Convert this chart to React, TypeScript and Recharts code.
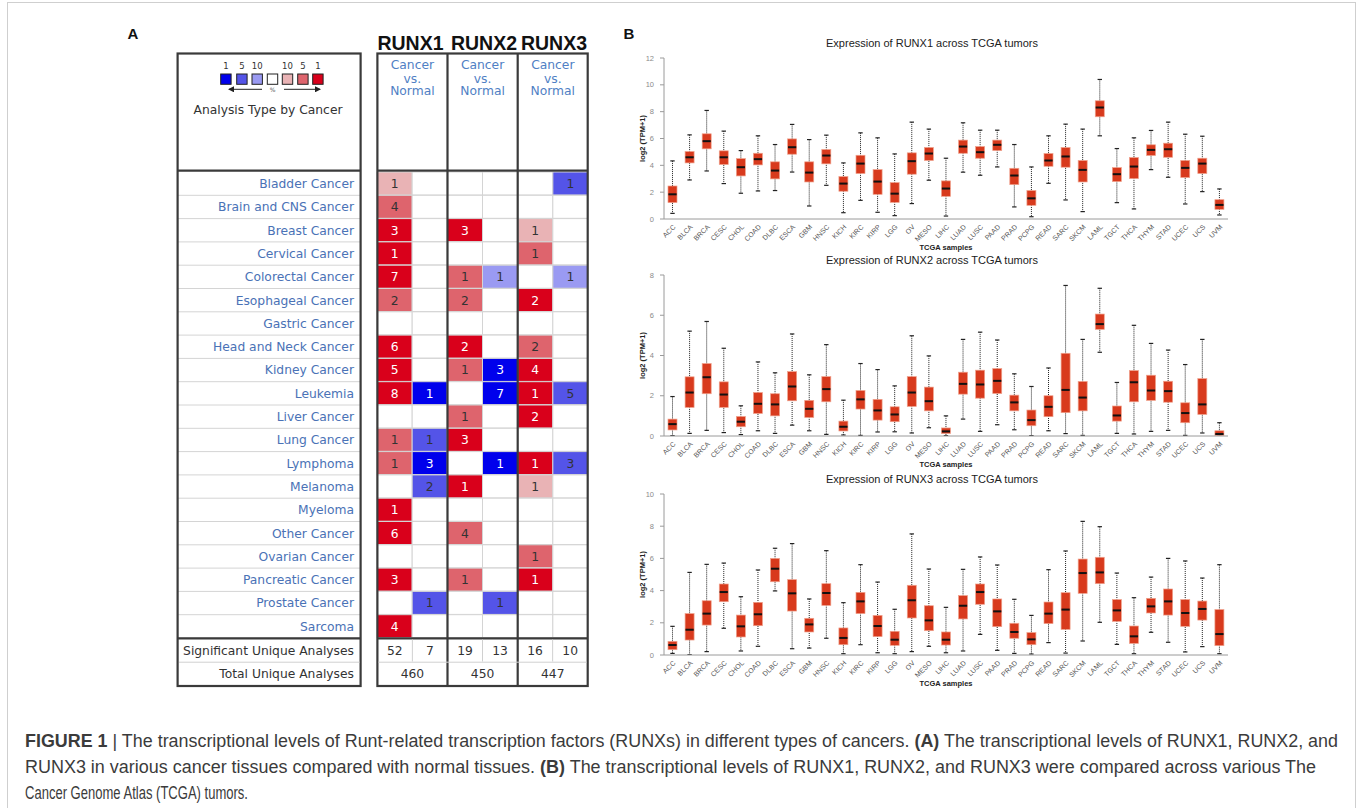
import React from 'react';
import { BarChart, Bar, XAxis, YAxis, ComposedChart } from 'recharts';

// ---------------- Panel A data (Oncomine) ----------------
const cancerTypes = [
  'Bladder Cancer', 'Brain and CNS Cancer', 'Breast Cancer', 'Cervical Cancer', 'Colorectal Cancer',
  'Esophageal Cancer', 'Gastric Cancer', 'Head and Neck Cancer', 'Kidney Cancer', 'Leukemia',
  'Liver Cancer', 'Lung Cancer', 'Lymphoma', 'Melanoma', 'Myeloma', 'Other Cancer',
  'Ovarian Cancer', 'Pancreatic Cancer', 'Prostate Cancer', 'Sarcoma',
];
const genes = ['RUNX1', 'RUNX2', 'RUNX3'];
const runx1Up = [1, 4, 3, 1, 7, 2, 0, 6, 5, 8, 0, 1, 1, 0, 1, 6, 0, 3, 0, 4];
const runx1UpShade = [1, 2, 3, 3, 3, 2, 0, 3, 3, 3, 0, 2, 2, 0, 3, 3, 0, 3, 0, 3];
const runx1Down = [0, 0, 0, 0, 0, 0, 0, 0, 0, 1, 0, 1, 3, 2, 0, 0, 0, 0, 1, 0];
const runx1DownShade = [0, 0, 0, 0, 0, 0, 0, 0, 0, 3, 0, 2, 3, 2, 0, 0, 0, 0, 2, 0];
const runx2Up = [0, 0, 3, 0, 1, 2, 0, 2, 1, 0, 1, 3, 0, 1, 0, 4, 0, 1, 0, 0];
const runx2UpShade = [0, 0, 3, 0, 2, 2, 0, 3, 2, 0, 2, 3, 0, 3, 0, 2, 0, 2, 0, 0];
const runx2Down = [0, 0, 0, 0, 1, 0, 0, 0, 3, 7, 0, 0, 1, 0, 0, 0, 0, 0, 1, 0];
const runx2DownShade = [0, 0, 0, 0, 1, 0, 0, 0, 3, 3, 0, 0, 3, 0, 0, 0, 0, 0, 2, 0];
const runx3Up = [0, 0, 1, 1, 0, 2, 0, 2, 4, 1, 2, 0, 1, 1, 0, 0, 1, 1, 0, 0];
const runx3UpShade = [0, 0, 1, 2, 0, 3, 0, 2, 3, 3, 3, 0, 3, 1, 0, 0, 2, 3, 0, 0];
const runx3Down = [1, 0, 0, 0, 1, 0, 0, 0, 0, 5, 0, 0, 3, 0, 0, 0, 0, 0, 0, 0];
const runx3DownShade = [2, 0, 0, 0, 1, 0, 0, 0, 0, 2, 0, 0, 2, 0, 0, 0, 0, 0, 0, 0];
const significantAnalyses = [52, 7, 19, 13, 16, 10];
const totalAnalyses = [460, 450, 447];
const legendPercentLabels = ['1', '5', '10', '', '10', '5', '1'];

// ---------------- Panel B data (GEPIA boxplots) ----------------
const tcgaTypes = ['ACC', 'BLCA', 'BRCA', 'CESC', 'CHOL', 'COAD', 'DLBC', 'ESCA', 'GBM', 'HNSC', 'KICH', 'KIRC', 'KIRP', 'LGG', 'OV', 'MESO', 'LIHC',
  'LUAD', 'LUSC', 'PAAD', 'PRAD', 'PCPG', 'READ', 'SARC', 'SKCM', 'LAML', 'TGCT', 'THCA', 'THYM', 'STAD', 'UCEC', 'UCS', 'UVM'];

const runx1Min = [0.42, 2.91, 3.58, 2.64, 1.92, 2.09, 2.12, 3.5, 0.97, 2.51, 0.47, 1.39, 0.5, 0.25, 1.15, 2.89, 0.22, 3.49, 3.26, 3.88, 0.9, 0.17, 2.66, 1.42, 0.55, 6.2, 1.22, 0.75, 3.68, 3.11, 1.12, 2.04, 0.3];
const runx1Q1 = [1.22, 4.18, 5.23, 4.06, 3.21, 4.03, 2.99, 4.83, 2.76, 4.11, 2.07, 3.39, 1.84, 1.24, 3.34, 4.36, 1.69, 4.9, 4.53, 5.1, 2.56, 1.02, 3.93, 3.86, 2.76, 7.62, 2.79, 3.01, 4.73, 4.6, 3.09, 3.39, 0.72];
const runx1Med = [1.84, 4.6, 5.8, 4.6, 3.86, 4.46, 3.61, 5.35, 3.46, 4.73, 2.64, 4.13, 2.79, 1.89, 4.31, 4.88, 2.27, 5.4, 4.98, 5.53, 3.24, 1.54, 4.36, 4.66, 3.66, 8.31, 3.34, 3.91, 5.15, 5.2, 3.81, 4.13, 1.05];
const runx1Q3 = [2.46, 5.03, 6.35, 5.08, 4.5, 4.9, 4.26, 5.97, 4.26, 5.18, 3.16, 4.75, 3.68, 2.71, 4.93, 5.33, 2.84, 5.88, 5.4, 5.88, 3.78, 2.12, 4.88, 5.33, 4.36, 8.81, 3.83, 4.58, 5.53, 5.65, 4.36, 4.53, 1.44];
const runx1Max = [4.33, 6.27, 8.09, 6.55, 5.1, 6.2, 5.55, 7.05, 5.92, 6.25, 4.18, 6.42, 6.05, 4.85, 7.22, 6.7, 4.53, 7.17, 6.62, 6.62, 5.55, 3.88, 6.2, 7.07, 6.7, 10.4, 5.25, 6.05, 6.6, 7.22, 6.32, 6.17, 2.24];

const runx2Min = [0.02, 0.13, 0.28, 0.17, 0.07, 0.26, 0.13, 0.54, 0.26, 0.08, 0.05, 0.03, 0.2, 0.21, 0.15, 0.41, 0.02, 0.84, 0.23, 0.56, 0.31, 0.02, 0.26, 0.12, 0.03, 4.16, 0.13, 0.1, 0.23, 0.28, 0.03, 0.15, 0];
const runx2Q1 = [0.3, 1.42, 2.1, 1.42, 0.46, 1.12, 1.0, 1.75, 0.92, 1.7, 0.25, 1.34, 0.79, 0.71, 1.47, 1.25, 0.12, 2.08, 1.88, 2.11, 1.25, 0.51, 0.96, 1.16, 1.25, 5.3, 0.74, 1.7, 1.77, 1.68, 0.66, 1.07, 0.03];
const runx2Med = [0.59, 2.16, 2.92, 2.06, 0.71, 1.6, 1.57, 2.46, 1.35, 2.33, 0.46, 1.82, 1.27, 1.07, 2.16, 1.73, 0.23, 2.59, 2.56, 2.74, 1.67, 0.79, 1.45, 2.29, 1.91, 5.56, 1.02, 2.67, 2.26, 2.23, 1.14, 1.57, 0.1];
const runx2Q3 = [0.84, 2.94, 3.6, 2.69, 0.97, 2.16, 2.1, 3.2, 1.77, 2.95, 0.74, 2.26, 1.82, 1.45, 2.95, 2.43, 0.4, 3.17, 3.27, 3.35, 2.03, 1.29, 2.0, 4.11, 2.71, 6.06, 1.49, 3.25, 3.02, 2.72, 1.65, 2.85, 0.26];
const runx2Max = [1.96, 5.21, 5.69, 4.36, 1.5, 3.68, 3.14, 5.07, 3.04, 4.54, 1.78, 3.6, 3.3, 2.49, 4.98, 3.98, 1.0, 4.8, 5.16, 4.77, 3.09, 2.46, 3.38, 7.48, 4.8, 7.34, 2.66, 5.5, 4.6, 4.27, 3.55, 4.8, 0.66];

const runx3Min = [0.1, 0.02, 0.21, 1.66, 0.25, 0.54, 3.98, 0.39, 0.43, 1.04, 0.08, 0.64, 0.14, 0.08, 0.21, 0.54, 0.14, 0.25, 1.28, 0.29, 0.1, 0.06, 0.77, 0.12, 0.87, 2.03, 0.66, 0.08, 1.41, 0.79, 0.19, 0.52, 0.08];
const runx3Q1 = [0.33, 0.93, 1.86, 3.31, 1.12, 1.82, 4.55, 2.73, 1.43, 3.08, 0.64, 2.57, 1.14, 0.6, 2.3, 1.51, 0.62, 2.24, 3.15, 1.76, 1.04, 0.64, 1.95, 1.59, 3.83, 4.43, 2.09, 0.72, 2.61, 2.48, 1.78, 2.17, 0.58];
const runx3Med = [0.62, 1.57, 2.57, 3.91, 1.78, 2.53, 5.36, 3.83, 1.9, 3.85, 1.06, 3.33, 1.8, 0.95, 3.4, 2.15, 0.95, 3.06, 3.91, 2.71, 1.43, 0.97, 2.57, 2.82, 5.09, 5.13, 2.77, 1.16, 3.02, 3.33, 2.61, 2.86, 1.3];
const runx3Q3 = [0.85, 2.57, 3.37, 4.41, 2.48, 3.27, 6.0, 4.68, 2.28, 4.43, 1.68, 3.89, 2.46, 1.47, 4.33, 3.06, 1.43, 3.69, 4.41, 3.48, 1.97, 1.39, 3.29, 3.87, 5.96, 6.07, 3.44, 1.8, 3.52, 4.1, 3.44, 3.35, 2.82];
const runx3Max = [1.78, 5.13, 5.63, 5.71, 3.62, 5.28, 6.63, 6.92, 3.48, 6.48, 3.25, 5.61, 4.53, 2.84, 7.52, 5.34, 2.96, 5.32, 6.09, 5.59, 3.46, 2.46, 5.3, 6.46, 8.3, 7.97, 5.09, 3.56, 4.84, 6.0, 5.84, 4.78, 5.61];

const runx1Ticks = [0, 2, 4, 6, 8, 10, 12];
const runx2Ticks = [0, 2, 4, 6, 8];
const runx3Ticks = [0, 2, 4, 6, 8, 10];

// ---------------- styling ----------------
const FONT_A = '"DejaVu Sans", Verdana, sans-serif';
const FONT_B = '"Liberation Sans", Arial, Helvetica, sans-serif';
const UP_COLORS = ['#ffffff', '#e9b3b5', '#de646d', '#d9001b'];
const DOWN_COLORS = ['#ffffff', '#9a9af2', '#5454e8', '#0000ec'];
const LINK_BLUE = '#4a72b6';

const heatColumns = [
  { counts: runx1Up, shades: runx1UpShade, dir: 'up' },
  { counts: runx1Down, shades: runx1DownShade, dir: 'down' },
  { counts: runx2Up, shades: runx2UpShade, dir: 'up' },
  { counts: runx2Down, shades: runx2DownShade, dir: 'down' },
  { counts: runx3Up, shades: runx3UpShade, dir: 'up' },
  { counts: runx3Down, shades: runx3DownShade, dir: 'down' },
];

const heatData = cancerTypes.map((name, i) => {
  const row: any = { name };
  heatColumns.forEach((c, k) => {
    row['n' + k] = c.counts[i];
    row['s' + k] = c.shades[i];
  });
  return row;
});

const makeHeatShape = (k: number, dir: string) => (props: any) => {
  const { x, y, width, height, payload } = props;
  const n = payload['n' + k];
  const s = payload['s' + k];
  const fill = (dir === 'up' ? UP_COLORS : DOWN_COLORS)[s];
  return (
    <g>
      <rect x={x} y={y} width={width} height={height} fill={fill} stroke="#d4d4d4" strokeWidth={1} />
      {n > 0 && (
        <text x={x + width / 2} y={y + height / 2} dy="0.37em" textAnchor="middle" fontSize={12.3}
          fontFamily={FONT_A} fill={s === 3 ? '#ffffff' : '#333333'}>{n}</text>
      )}
    </g>
  );
};

const ROW_H = 466 / 20;
const CancerTick = (props: any) => {
  const { y, payload } = props;
  return (
    <g>
      <text x={176} y={y} dy="0.36em" textAnchor="end" fontSize={12.3} fontFamily={FONT_A} fill={LINK_BLUE}>{payload.value}</text>
      <line x1={0} x2={183} y1={y + ROW_H / 2} y2={y + ROW_H / 2} stroke="#d4d4d4" strokeWidth={1} />
    </g>
  );
};

function Heatmap() {
  return (
    <div style={{ position: 'absolute', left: 178, top: 172, width: 410, height: 466 }}>
      <BarChart width={410} height={466} data={heatData} layout="vertical"
        margin={{ top: 0, right: 0, bottom: 0, left: 0 }} barCategoryGap={0} barGap={0}>
        <XAxis type="number" domain={[0, 6]} hide />
        <YAxis type="category" dataKey="name" width={199} interval={0} tick={CancerTick}
          tickLine={false} axisLine={false} />
        {heatColumns.map((c, k) => (
          <Bar key={k} dataKey={() => 1} stackId="cells" shape={makeHeatShape(k, c.dir)} isAnimationActive={false} />
        ))}
      </BarChart>
    </div>
  );
}

const BoxShape = (props: any) => {
  const { x, y, width, height, payload } = props;
  if (!payload) return null;
  const { min, q1, med, q3, max } = payload;
  const top = Math.min(y, y + height);
  const h = Math.abs(height);
  const span = max - min || 1;
  const py = (v: number) => top + ((max - v) / span) * h;
  const cx = x + width / 2;
  return (
    <g>
      <line x1={cx} x2={cx} y1={py(max)} y2={py(min)} stroke="#222" strokeWidth={1} strokeDasharray="1 1" />
      <line x1={cx - 2.2} x2={cx + 2.2} y1={py(max)} y2={py(max)} stroke="#222" strokeWidth={1.2} />
      <line x1={cx - 2.2} x2={cx + 2.2} y1={py(min)} y2={py(min)} stroke="#222" strokeWidth={1.2} />
      <rect x={x} y={py(q3)} width={width} height={Math.max(0.5, py(q1) - py(q3))} fill="#d83a1d" stroke="#f0a18c" strokeWidth={0.7} />
      <line x1={x + 0.4} x2={x + width - 0.4} y1={py(med)} y2={py(med)} stroke="#111" strokeWidth={2} />
    </g>
  );
};

const XTick = (props: any) => {
  const { x, y, payload } = props;
  const tx = x + 2;
  const ty = y + 7;
  return (
    <text x={tx} y={ty} dy="0.3em" transform={`rotate(-45, ${tx}, ${ty})`} textAnchor="end" fontSize={7}
      fontFamily={FONT_B} fill="#555">{payload.value}</text>
  );
};

type BoxProps = { top: number; yMax: number; ticks: number[]; mins: number[]; q1s: number[]; meds: number[]; q3s: number[]; maxs: number[] };

function BoxChart({ top, yMax, ticks, mins, q1s, meds, q3s, maxs }: BoxProps) {
  const data = tcgaTypes.map((name, i) => ({ name, min: mins[i], q1: q1s[i], med: meds[i], q3: q3s[i], max: maxs[i] }));
  return (
    <div style={{ position: 'absolute', left: 620, top, width: 612, height: 231 }}>
      <ComposedChart width={612} height={231} data={data} margin={{ top: 25, right: 4, bottom: 0, left: 0 }}>
        <XAxis dataKey="name" interval={0} height={45} tick={XTick} tickLine={false} tickSize={0} tickMargin={0}
          axisLine={{ stroke: '#9a9a9a' }} />
        <YAxis domain={[0, yMax]} ticks={ticks} width={44} allowDataOverflow tickSize={4} tickMargin={6}
          tick={{ fontSize: 7.5, fill: '#8a8a8a', fontFamily: FONT_B }} tickLine={{ stroke: '#9a9a9a' }} axisLine={{ stroke: '#9a9a9a' }} />
        <Bar dataKey={(d: any) => [d.min, d.max]} barSize={9} shape={BoxShape} isAnimationActive={false} />
      </ComposedChart>
    </div>
  );
}

const boxPanels = [
  { gene: 'RUNX1', top: 33, yMax: 12, ticks: runx1Ticks, mins: runx1Min, q1s: runx1Q1, meds: runx1Med, q3s: runx1Q3, maxs: runx1Max, titleY: 46.5 },
  { gene: 'RUNX2', top: 250, yMax: 8, ticks: runx2Ticks, mins: runx2Min, q1s: runx2Q1, meds: runx2Med, q3s: runx2Q3, maxs: runx2Max, titleY: 264 },
  { gene: 'RUNX3', top: 469, yMax: 10, ticks: runx3Ticks, mins: runx3Min, q1s: runx3Q1, meds: runx3Med, q3s: runx3Q3, maxs: runx3Max, titleY: 483 },
];

const legendX = [220.7, 236.7, 252, 267.3, 282.3, 297.7, 312.7];
const legendFill = [DOWN_COLORS[3], DOWN_COLORS[2], DOWN_COLORS[1], '#ffffff', UP_COLORS[1], UP_COLORS[2], UP_COLORS[3]];
const groupCenters = [412.4, 482.6, 552.8];
const geneLabelX = [410.5, 484, 554];
const subColX = (k: number) => 377.3 + (k + 0.5) * (210.4 / 6);

function Overlay() {
  const capStyle = { fontFamily: FONT_B, fontSize: 17.5, fill: '#3b3b3b' } as any;
  return (
    <svg width={1358} height={808} style={{ position: 'absolute', left: 0, top: 0, pointerEvents: 'none' }}>
      <defs>
        <marker id="arrL" markerWidth="6" markerHeight="6" refX="1" refY="3" orient="auto">
          <path d="M6,0 L0,3 L6,6 Z" fill="#222" />
        </marker>
        <marker id="arrR" markerWidth="6" markerHeight="6" refX="5" refY="3" orient="auto">
          <path d="M0,0 L6,3 L0,6 Z" fill="#222" />
        </marker>
      </defs>
      {/* panel letters */}
      <text x={133} y={38.5} textAnchor="middle" fontFamily={FONT_B} fontWeight="bold" fontSize={15} fill="#111">A</text>
      <text x={629} y={38.5} textAnchor="middle" fontFamily={FONT_B} fontWeight="bold" fontSize={15} fill="#111">B</text>

      {/* panel A frame */}
      <g stroke="#3a3a3a" strokeWidth={2.2} fill="none">
        <rect x={177.6} y={53.5} width={183} height={632.5} />
        <rect x={377.4} y={53.5} width={210.3} height={632.5} />
        <line x1={177.6} x2={360.6} y1={170.6} y2={170.6} />
        <line x1={377.4} x2={587.7} y1={170.6} y2={170.6} />
        <line x1={177.6} x2={360.6} y1={638.3} y2={638.3} />
        <line x1={377.4} x2={587.7} y1={638.3} y2={638.3} />
        <line x1={447.5} x2={447.5} y1={53.5} y2={686} />
        <line x1={517.7} x2={517.7} y1={53.5} y2={686} />
      </g>
      <g stroke="#d0d0d0" strokeWidth={1}>
        <line x1={179} x2={359.5} y1={662.2} y2={662.2} />
        <line x1={378.5} x2={586.5} y1={662.2} y2={662.2} />
        {[0, 2, 4].map((k) => (
          <line key={k} x1={377.3 + (k + 1) * (210.4 / 6)} x2={377.3 + (k + 1) * (210.4 / 6)} y1={639.5} y2={661.5} />
        ))}
      </g>
      {genes.map((g, i) => (
        <text key={g} x={geneLabelX[i]} y={49.5} textAnchor="middle" fontFamily={FONT_B} fontWeight="bold" fontSize={19.5} fill="#111">{g}</text>
      ))}
      {groupCenters.map((cx, i) => (
        <g key={i} fontFamily={FONT_A} fontSize={12.3} fill="#5080c4" textAnchor="middle">
          <text x={cx} y={65} dy="0.35em">Cancer</text>
          <text x={cx} y={78.3} dy="0.35em">vs.</text>
          <text x={cx} y={90.7} dy="0.35em">Normal</text>
        </g>
      ))}
      {/* legend */}
      {legendX.map((x, i) => (
        <g key={i}>
          <rect x={x} y={74} width={10.4} height={10.3} fill={legendFill[i]} stroke="#222" strokeWidth={1} />
          {legendPercentLabels[i] && (
            <text x={x + 5.2} y={65.7} dy="0.35em" textAnchor="middle" fontFamily={FONT_A} fontSize={8.5} fill="#333">{legendPercentLabels[i]}</text>
          )}
        </g>
      ))}
      <line x1={262} x2={229} y1={89.3} y2={89.3} stroke="#222" strokeWidth={1} markerEnd="url(#arrR)" />
      <line x1={284} x2={320} y1={89.3} y2={89.3} stroke="#222" strokeWidth={1} markerEnd="url(#arrR)" />
      <text x={272.5} y={91.5} textAnchor="middle" fontFamily={FONT_A} fontSize={6} fill="#555">%</text>
      <text x={268} y={109.3} dy="0.35em" textAnchor="middle" fontFamily={FONT_A} fontSize={12.3} fill="#333">Analysis Type by Cancer</text>

      {/* bottom summary rows */}
      <text x={354} y={650.5} dy="0.36em" textAnchor="end" fontFamily={FONT_A} fontSize={12.3} fill="#333">Significant Unique Analyses</text>
      <text x={354} y={674} dy="0.36em" textAnchor="end" fontFamily={FONT_A} fontSize={12.3} fill="#333">Total Unique Analyses</text>
      {significantAnalyses.map((v, k) => (
        <text key={k} x={subColX(k)} y={650.5} dy="0.36em" textAnchor="middle" fontFamily={FONT_A} fontSize={12.3} fill="#333">{v}</text>
      ))}
      {totalAnalyses.map((v, i) => (
        <text key={i} x={groupCenters[i]} y={674} dy="0.36em" textAnchor="middle" fontFamily={FONT_A} fontSize={12.3} fill="#333">{v}</text>
      ))}

      {/* panel B text */}
      {boxPanels.map((p) => {
        const plotTop = p.top + 25;
        const plotBottom = plotTop + 161;
        const cy = (plotTop + plotBottom) / 2;
        return (
          <g key={p.gene}>
            <text x={932} y={p.titleY} textAnchor="middle" fontFamily={FONT_B} fontSize={11} fill="#222">{`Expression of ${p.gene} across TCGA tumors`}</text>
            <text x={642} y={cy} dy="0.35em" transform={`rotate(-90, 642, ${cy})`} textAnchor="middle" fontFamily={FONT_B} fontWeight="bold" fontSize={7.5} fill="#222">log2 (TPM+1)</text>
            <text x={946} y={plotBottom + 28.5} dy="0.35em" textAnchor="middle" fontFamily={FONT_B} fontWeight="bold" fontSize={7.5} fill="#222">TCGA samples</text>
          </g>
        );
      })}

      {/* caption */}
      <text x={25} y={746.5} textLength={1313} lengthAdjust="spacingAndGlyphs" style={capStyle}>
        <tspan fontWeight="bold">FIGURE 1</tspan> | The transcriptional levels of Runt-related transcription factors (RUNXs) in different types of cancers. <tspan fontWeight="bold">(A)</tspan> The transcriptional levels of RUNX1, RUNX2, and
      </text>
      <text x={25} y={772.5} textLength={1291} lengthAdjust="spacingAndGlyphs" style={capStyle}>
        RUNX3 in various cancer tissues compared with normal tissues. <tspan fontWeight="bold">(B)</tspan> The transcriptional levels of RUNX1, RUNX2, and RUNX3 were compared across various The
      </text>
      <text x={25} y={798.5} textLength={223} lengthAdjust="spacingAndGlyphs" style={capStyle}>
        Cancer Genome Atlas (TCGA) tumors.
      </text>
    </svg>
  );
}

export default function App() {
  return (
    <div style={{ position: 'absolute', left: 0, top: 0, width: 1358, height: 808, overflow: 'hidden', background: '#ffffff', fontFamily: FONT_B }}>
      <div style={{ position: 'absolute', left: 7, top: 2, width: 1347, height: 840, border: '1px solid #cfcfcf' }} />
      <Heatmap />
      {boxPanels.map((p) => (
        <BoxChart key={p.gene} top={p.top} yMax={p.yMax} ticks={p.ticks} mins={p.mins} q1s={p.q1s} meds={p.meds} q3s={p.q3s} maxs={p.maxs} />
      ))}
      <Overlay />
    </div>
  );
}
